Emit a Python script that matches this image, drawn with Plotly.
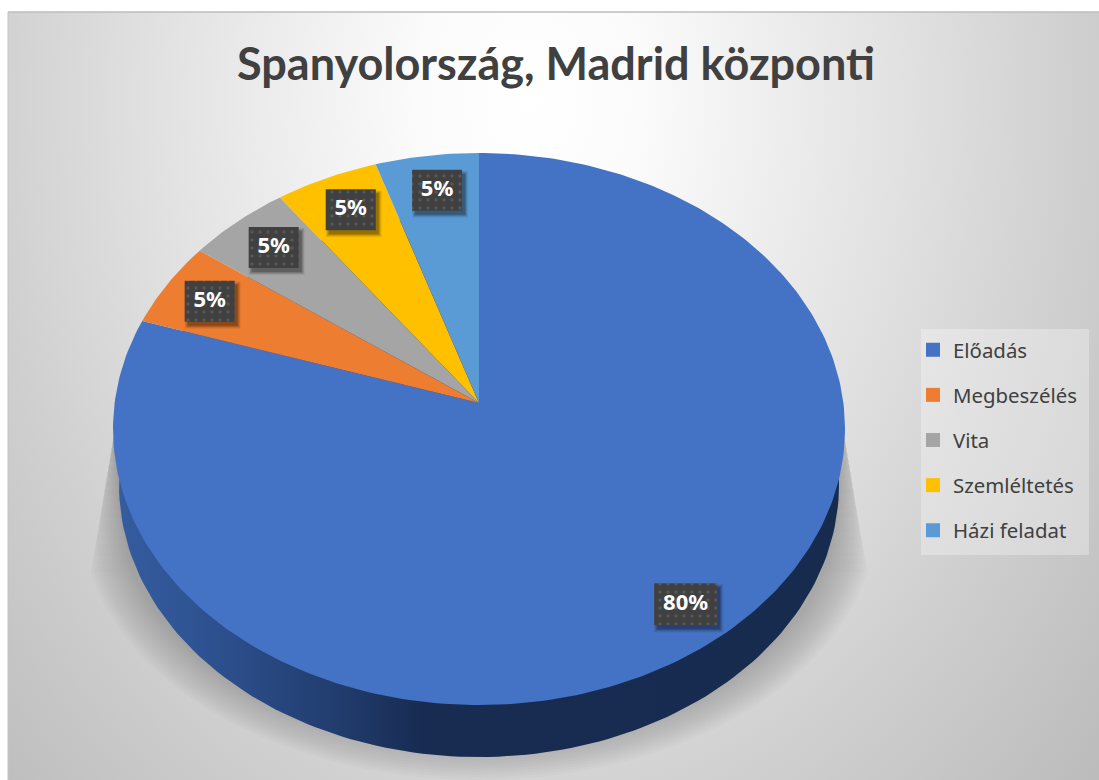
import math
import plotly.graph_objects as go

# ---- data ----
categories = ["Előadás", "Megbeszélés", "Vita", "Szemléltetés", "Házi feladat"]
values = [80, 5, 5, 5, 5]
colors = ["#4472C4", "#ED7D31", "#A5A5A5", "#FFC000", "#5B9BD5"]
title_text = "Spanyolország, Madrid központi"

# ---- geometry of the tilted pie, in page pixels ----
W, H = 1099, 780
LEFT, TOP = 8, 12
CX, CY, RX, RY = 479, 429, 366, 276
TILT = 0.094                     # perspective shift of the pie centre
SIDE_CX, SIDE_CY, SIDE_RX, SIDE_RY = 479, 485, 360, 272


def project(theta, r=1.0):
    t = math.radians(theta)
    u, v = r * math.sin(t), r * math.cos(t)
    d = 1 + TILT * v
    return (CX + RX * u * math.sqrt(1 - TILT ** 2) / d,
            CY - RY * (v + TILT) / d)


def ellipse(cx, cy, rx, ry, a0=0, a1=360, n=240):
    pts = [math.radians(a0 + (a1 - a0) * i / n) for i in range(n + 1)]
    return [cx + rx * math.cos(p) for p in pts], [cy + ry * math.sin(p) for p in pts]


def poly(xs, ys, **kw):
    return go.Scatter(x=xs, y=ys, mode="lines", fill="toself", line=dict(width=0),
                      hoverinfo="skip", showlegend=False, **kw)


def rect(cx, cy, w, h):
    return ([cx - w / 2, cx + w / 2, cx + w / 2, cx - w / 2, cx - w / 2],
            [cy - h / 2, cy - h / 2, cy + h / 2, cy + h / 2, cy - h / 2])


fig = go.Figure()

# background: elliptical radial gradient centred high up on the panel
BG_X, BG_Y, BG_HX, BG_HY = 530, 100, 800, 1070
fig.add_trace(poly(
    [BG_X - BG_HX, BG_X + BG_HX, BG_X + BG_HX, BG_X - BG_HX, BG_X - BG_HX],
    [BG_Y - BG_HY, BG_Y - BG_HY, BG_Y + BG_HY, BG_Y + BG_HY, BG_Y - BG_HY],
    fillgradient=dict(type="radial", colorscale=[
        [0.0, "#FFFFFF"], [0.14, "#FBFBFB"], [0.28, "#F0F0F0"], [0.47, "#E1E1E1"],
        [0.69, "#CFCFCF"], [0.93, "#BDBDBD"], [1.0, "#B9B9B9"]]),
))

# shadow wedges beside the pie: crisp near the top, fading out downwards
WEDGE_TOP, WEDGE_BOTTOM = 415, 572
WEDGE_LAYERS = 20
for i in range(WEDGE_LAYERS):
    f = (i + 1) / WEDGE_LAYERS
    end_y = WEDGE_TOP + (WEDGE_BOTTOM - WEDGE_TOP) * f
    half = 362 + 26 * f
    fig.add_trace(poly([479 - 362, 479 + 362, 479 + half, 479 - half, 479 - 362],
                       [WEDGE_TOP, WEDGE_TOP, end_y, end_y, WEDGE_TOP],
                       fillcolor="rgba(0,0,0,0.006)"))

# soft shadow: nested outlines, each adding a little darkness
STEPS = 14
for i in range(STEPS):
    s = i / (STEPS - 1)
    rx, ry = 397 - 40 * s, 262 - 36 * s
    ax, ay = ellipse(479, 518, rx, ry, 12, 168, 120)
    top_half = 362 - 2 * s
    fig.add_trace(poly([479 + top_half] + ax + [479 - top_half, 479 + top_half],
                       [415] + ay + [415, 415],
                       fillcolor="rgba(0,0,0,0.016)"))

# side wall
sx, sy = ellipse(SIDE_CX, SIDE_CY, SIDE_RX, SIDE_RY)
fig.add_trace(poly(sx, sy, fillgradient=dict(
    type="horizontal", colorscale=[
        [0.0, "#345C9F"], [0.12, "#2E5291"], [0.28, "#233F72"],
        [0.42, "#182C52"], [1.0, "#172B4F"]])))

# slices
start = 0.0
total = sum(values)
mids = []
for name, val, col in zip(categories, values, colors):
    sweep = 360.0 * val / total
    n = max(2, int(sweep))
    arc = [project(start + sweep * i / n) for i in range(n + 1)]
    apex = project(0, 0)
    fig.add_trace(poly([apex[0]] + [p[0] for p in arc] + [apex[0]],
                       [apex[1]] + [p[1] for p in arc] + [apex[1]],
                       fillcolor=col))
    mids.append(start + sweep / 2)
    start += sweep

# data-label boxes
LABEL_R = 0.85
label_w = [63 if v >= 10 else 50 for v in values]
label_h = [42 if v >= 10 else 41 for v in values]
label_dx = [12, -3, 2, 3, 3]
lx, ly = [], []
for m, dx in zip(mids, label_dx):
    px, py = project(m, LABEL_R)
    lx.append(px + dx)
    ly.append(py)
for x, y, w, h in zip(lx, ly, label_w, label_h):
    for grow, alpha in ((6, 0.07), (4, 0.10), (2, 0.14), (0, 0.18)):
        fig.add_trace(poly(*rect(x + 3, y + 4, w + grow, h + grow),
                           fillcolor=f"rgba(0,0,0,{alpha})"))
    fig.add_trace(poly(*rect(x, y, w, h), fillcolor="#404040",
                       fillpattern=dict(shape=".", size=8, solidity=0.14,
                                        fgcolor="#565656", bgcolor="#404040",
                                        fillmode="replace")))
fig.add_trace(go.Scatter(x=lx, y=ly, mode="text", text=[f"<b>{v}%</b>" for v in values],
                         textposition="middle center", hoverinfo="skip", showlegend=False,
                         textfont=dict(family="Noto Sans", size=22, color="#FFFFFF")))

# legend entries
for name, col in zip(categories, colors):
    fig.add_trace(go.Scatter(x=[None], y=[None], mode="markers", name=name, legendgroup=name,
                             marker=dict(symbol="square", size=14, color=col)))

fig.update_layout(
    width=W, height=H,
    margin=dict(l=0, r=0, t=0, b=0),
    paper_bgcolor="#FFFFFF", plot_bgcolor="rgba(0,0,0,0)",
    xaxis=dict(range=[LEFT, W], domain=[LEFT / W, 1], visible=False, fixedrange=True),
    yaxis=dict(range=[H, TOP], domain=[0, (H - TOP) / H], visible=False, fixedrange=True),
    title=dict(text=f"<b>{title_text}</b>", x=556 / W, xanchor="center",
               y=1 - 64 / H, yanchor="middle",
               font=dict(family="Lato", size=45, color="#404040")),
    legend=dict(x=913 / W, xanchor="left", y=1 - 330 / H, yanchor="top",
                bgcolor="rgba(0,0,0,0)", tracegroupgap=15.6, itemsizing="trace",
                font=dict(family="Noto Sans", size=20.4, color="#404040")),
    shapes=[
        dict(type="rect", xref="paper", yref="paper", x0=921 / W, x1=1089 / W,
             y0=1 - 555 / H, y1=1 - 329 / H, line=dict(width=0),
             fillcolor="rgba(255,255,255,0.30)"),
        dict(type="line", xref="paper", yref="paper", x0=LEFT / W, x1=1,
             y0=1 - TOP / H, y1=1 - TOP / H, line=dict(color="#BDBDBD", width=1.5)),
        dict(type="line", xref="paper", yref="paper", x0=LEFT / W, x1=LEFT / W,
             y0=0, y1=1 - TOP / H, line=dict(color="#C4C4C4", width=1)),
    ],
)

fig.write_html("out.html", config=dict(displayModeBar=False),
               post_script="document.body.style.margin='0';document.body.style.overflow='hidden';")
